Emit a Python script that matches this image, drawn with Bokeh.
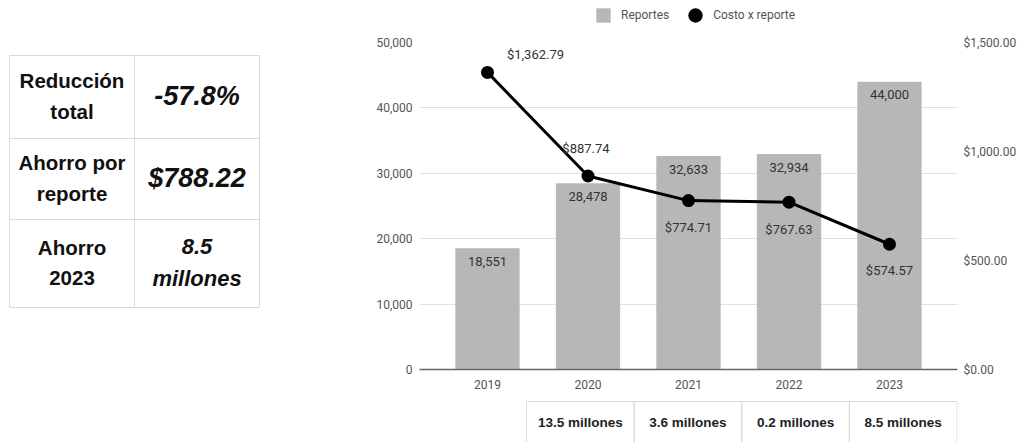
from bokeh.plotting import figure
from bokeh.models import (Range1d, LinearAxis, FixedTicker, SingleIntervalTicker,
                          NumeralTickFormatter, Legend, LegendItem, ColumnDataSource)
from bokeh.layouts import row, column
from bokeh.core.properties import value
from bokeh.embed import file_html
from bokeh.resources import INLINE

# ---------------- data ----------------
years = ["2019", "2020", "2021", "2022", "2023"]
reportes = [18551, 28478, 32633, 32934, 44000]
costo_x_reporte = [1362.79, 887.74, 774.71, 767.63, 574.57]
ahorro_anual = ["13.5 millones", "3.6 millones", "0.2 millones", "8.5 millones"]
resumen_labels = ["Reducción\ntotal", "Ahorro por\nreporte", "Ahorro\n2023"]
resumen_values = ["-57.8%", "$788.22", "8.5\nmillones"]
series_names = ["Reportes", "Costo x reporte"]

# ---------------- layout constants ----------------
W, H = 1019, 442
LEFT_W = 300
LEG_H = 34
CHART_H = 361
BOT_H = H - LEG_H - CHART_H
FRAME_L, FRAME_R = 419, 957          # page-pixel frame edges shared by right column
MB_L, MB_R = FRAME_L - LEFT_W, W - FRAME_R
FONT = "Roboto"
TFONT = "Liberation Sans"
BORDER = "#d9d9d9"
BAR_COLOR = "#b7b7b7"


def blank(width, height, xr, yr, **kw):
    f = figure(width=width, height=height, x_range=xr, y_range=yr,
               output_backend="svg", toolbar_location=None, x_axis_location=None,
               y_axis_location=None, **kw)
    f.grid.visible = False
    f.outline_line_color = None
    return f


# ---------------- left summary table ----------------
left = blank(LEFT_W, H, Range1d(0, LEFT_W), Range1d(H, 0), min_border=0)
col_edges = [9, 134, 259]
row_edges = [55, 138, 219, 307]
n_rows = len(resumen_labels)
cells = dict(l=[], r=[], t=[], b=[])
for i in range(n_rows):
    for j in range(2):
        cells["l"].append(col_edges[j]); cells["r"].append(col_edges[j + 1])
        cells["t"].append(row_edges[i]); cells["b"].append(row_edges[i + 1])
left.quad(left="l", right="r", top="t", bottom="b", source=ColumnDataSource(cells),
          fill_color=None, line_color=BORDER, line_width=1)
row_mid = [(row_edges[i] + row_edges[i + 1]) / 2 for i in range(n_rows)]
left.text(x=[(col_edges[0] + col_edges[1]) / 2] * n_rows, y=[m - 1 for m in row_mid],
          text=resumen_labels, text_font=value(TFONT), text_font_style="bold",
          text_font_size="20.5px", text_color="#111", text_align="center",
          text_baseline="middle", text_line_height=1.33)
left.text(x=[(col_edges[1] + col_edges[2]) / 2] * n_rows, y=[m - 1 for m in row_mid],
          text=resumen_values, text_font=value(TFONT), text_font_style="bold italic",
          text_font_size=["27px", "27px", "22px"], text_color="#111", text_align="center",
          text_baseline="middle", text_line_height=1.27)

# ---------------- legend strip ----------------
leg = blank(W - LEFT_W, LEG_H, Range1d(FRAME_L, FRAME_R), Range1d(0, LEG_H),
            min_border_left=MB_L, min_border_right=MB_R, min_border_top=0, min_border_bottom=0)
nan = float("nan")
l_sq = leg.scatter(x=[nan], y=[nan], marker="square", fill_color=BAR_COLOR, line_color=None)
l_ci = leg.scatter(x=[nan], y=[nan], marker="circle", fill_color="black", line_color=None)
legend = Legend(items=[LegendItem(label=series_names[0], renderers=[l_sq]),
                       LegendItem(label=series_names[1], renderers=[l_ci])],
                orientation="horizontal", location=(166, 1),
                glyph_width=36, glyph_height=36, label_height=36, label_width=0,
                label_standoff=0, spacing=8, padding=0, margin=0,
                label_text_font=FONT, label_text_font_size="12px",
                label_text_color="#555", background_fill_alpha=0,
                border_line_color=None)
leg.add_layout(legend)

# ---------------- main chart ----------------
x = list(range(len(years)))
step = 100.5                 # px per category
x0_px = 487                  # px of first category centre
p = figure(width=W - LEFT_W, height=CHART_H,
           x_range=Range1d((FRAME_L - x0_px) / step, (FRAME_R - x0_px) / step),
           y_range=Range1d(0, 50000), output_backend="svg", toolbar_location=None,
           min_border_left=MB_L, min_border_right=MB_R, min_border_top=8,
           min_border_bottom=CHART_H - 8 - 327)
p.extra_y_ranges = {"cost": Range1d(0, 1500)}
p.outline_line_color = None

src = ColumnDataSource(dict(
    x=x, rep=reportes, cost=costo_x_reporte,
    rep_lbl=[f"{v:,}" for v in reportes],
    cost_lbl=[f"${v:,.2f}" for v in costo_x_reporte],
))
# label placement (style): first two above the point, rest below
src.data["dx"] = [48, -2, 0, 0, 0]
src.data["dy"] = [-18, -27, 27, 27, 26]

p.vbar(x="x", top="rep", width=0.64, source=src, fill_color=BAR_COLOR, line_color=None)
p.line(x="x", y="cost", source=src, y_range_name="cost", line_color="black", line_width=3)
p.scatter(x="x", y="cost", source=src, y_range_name="cost", size=13,
          fill_color="black", line_color=None)
p.text(x="x", y="rep", text="rep_lbl", source=src, text_align="center",
       text_baseline="middle", y_offset=13, text_font=value(FONT),
       text_font_size="13px", text_color="#333")
p.text(x="x", y="cost", text="cost_lbl", source=src, y_range_name="cost",
       text_align="center", text_baseline="middle", x_offset="dx", y_offset="dy",
       text_font=value(FONT), text_font_size="13px", text_color="#333")

# axes
xa = p.xaxis[0]
xa.ticker = FixedTicker(ticks=x)
xa.major_label_overrides = {i: yv for i, yv in enumerate(years)}
xa.axis_line_color = "#666"
xa.axis_line_width = 1.5
xa.major_tick_line_color = None
xa.minor_tick_line_color = None
xa.major_label_standoff = 4
xa.major_label_text_font = FONT
xa.major_label_text_font_size = "12px"
xa.major_label_text_color = "#555"

ya = p.yaxis[0]
ya.ticker = SingleIntervalTicker(interval=10000, num_minor_ticks=0)
ya.formatter = NumeralTickFormatter(format="0,0")
ya.axis_line_color = None
ya.major_tick_line_color = None
ya.minor_tick_line_color = None
ya.major_label_standoff = 1
ya.major_label_text_font = FONT
ya.major_label_text_font_size = "12px"
ya.major_label_text_color = "#555"

ra = LinearAxis(y_range_name="cost",
                ticker=SingleIntervalTicker(interval=500, num_minor_ticks=0),
                formatter=NumeralTickFormatter(format="$0,0.00"))
ra.axis_line_color = None
ra.major_tick_line_color = None
ra.minor_tick_line_color = None
ra.major_label_standoff = 0
ra.major_label_text_font = FONT
ra.major_label_text_font_size = "12px"
ra.major_label_text_color = "#555"
p.add_layout(ra, "right")

p.xgrid.grid_line_color = None
p.ygrid.grid_line_color = "#e0e0e0"
p.ygrid.grid_line_width = 1

# ---------------- bottom savings table ----------------
bottom = blank(W - LEFT_W, BOT_H, Range1d(FRAME_L, FRAME_R), Range1d(H, H - BOT_H),
               min_border_left=MB_L, min_border_right=MB_R, min_border_top=0,
               min_border_bottom=0)
n_b = len(ahorro_anual)
bx0, bx1 = 526, FRAME_R - 0.5
bw = (bx1 - bx0) / n_b
bsrc = ColumnDataSource(dict(
    l=[bx0 + i * bw for i in range(n_b)],
    r=[bx0 + (i + 1) * bw for i in range(n_b)],
    xc=[bx0 + (i + 0.5) * bw for i in range(n_b)],
    txt=ahorro_anual,
))
bottom.quad(left="l", right="r", top=401, bottom=460, source=bsrc,
            fill_color=None, line_color=BORDER, line_width=1)
bottom.text(x="xc", y=422, text="txt", source=bsrc, text_align="center",
            text_baseline="middle", text_font=value(TFONT), text_font_style="bold",
            text_font_size="13.5px", text_color="#222")

layout = row(left, column(leg, p, bottom, spacing=0), spacing=0)
open("out.html", "w").write(file_html(layout, INLINE))
